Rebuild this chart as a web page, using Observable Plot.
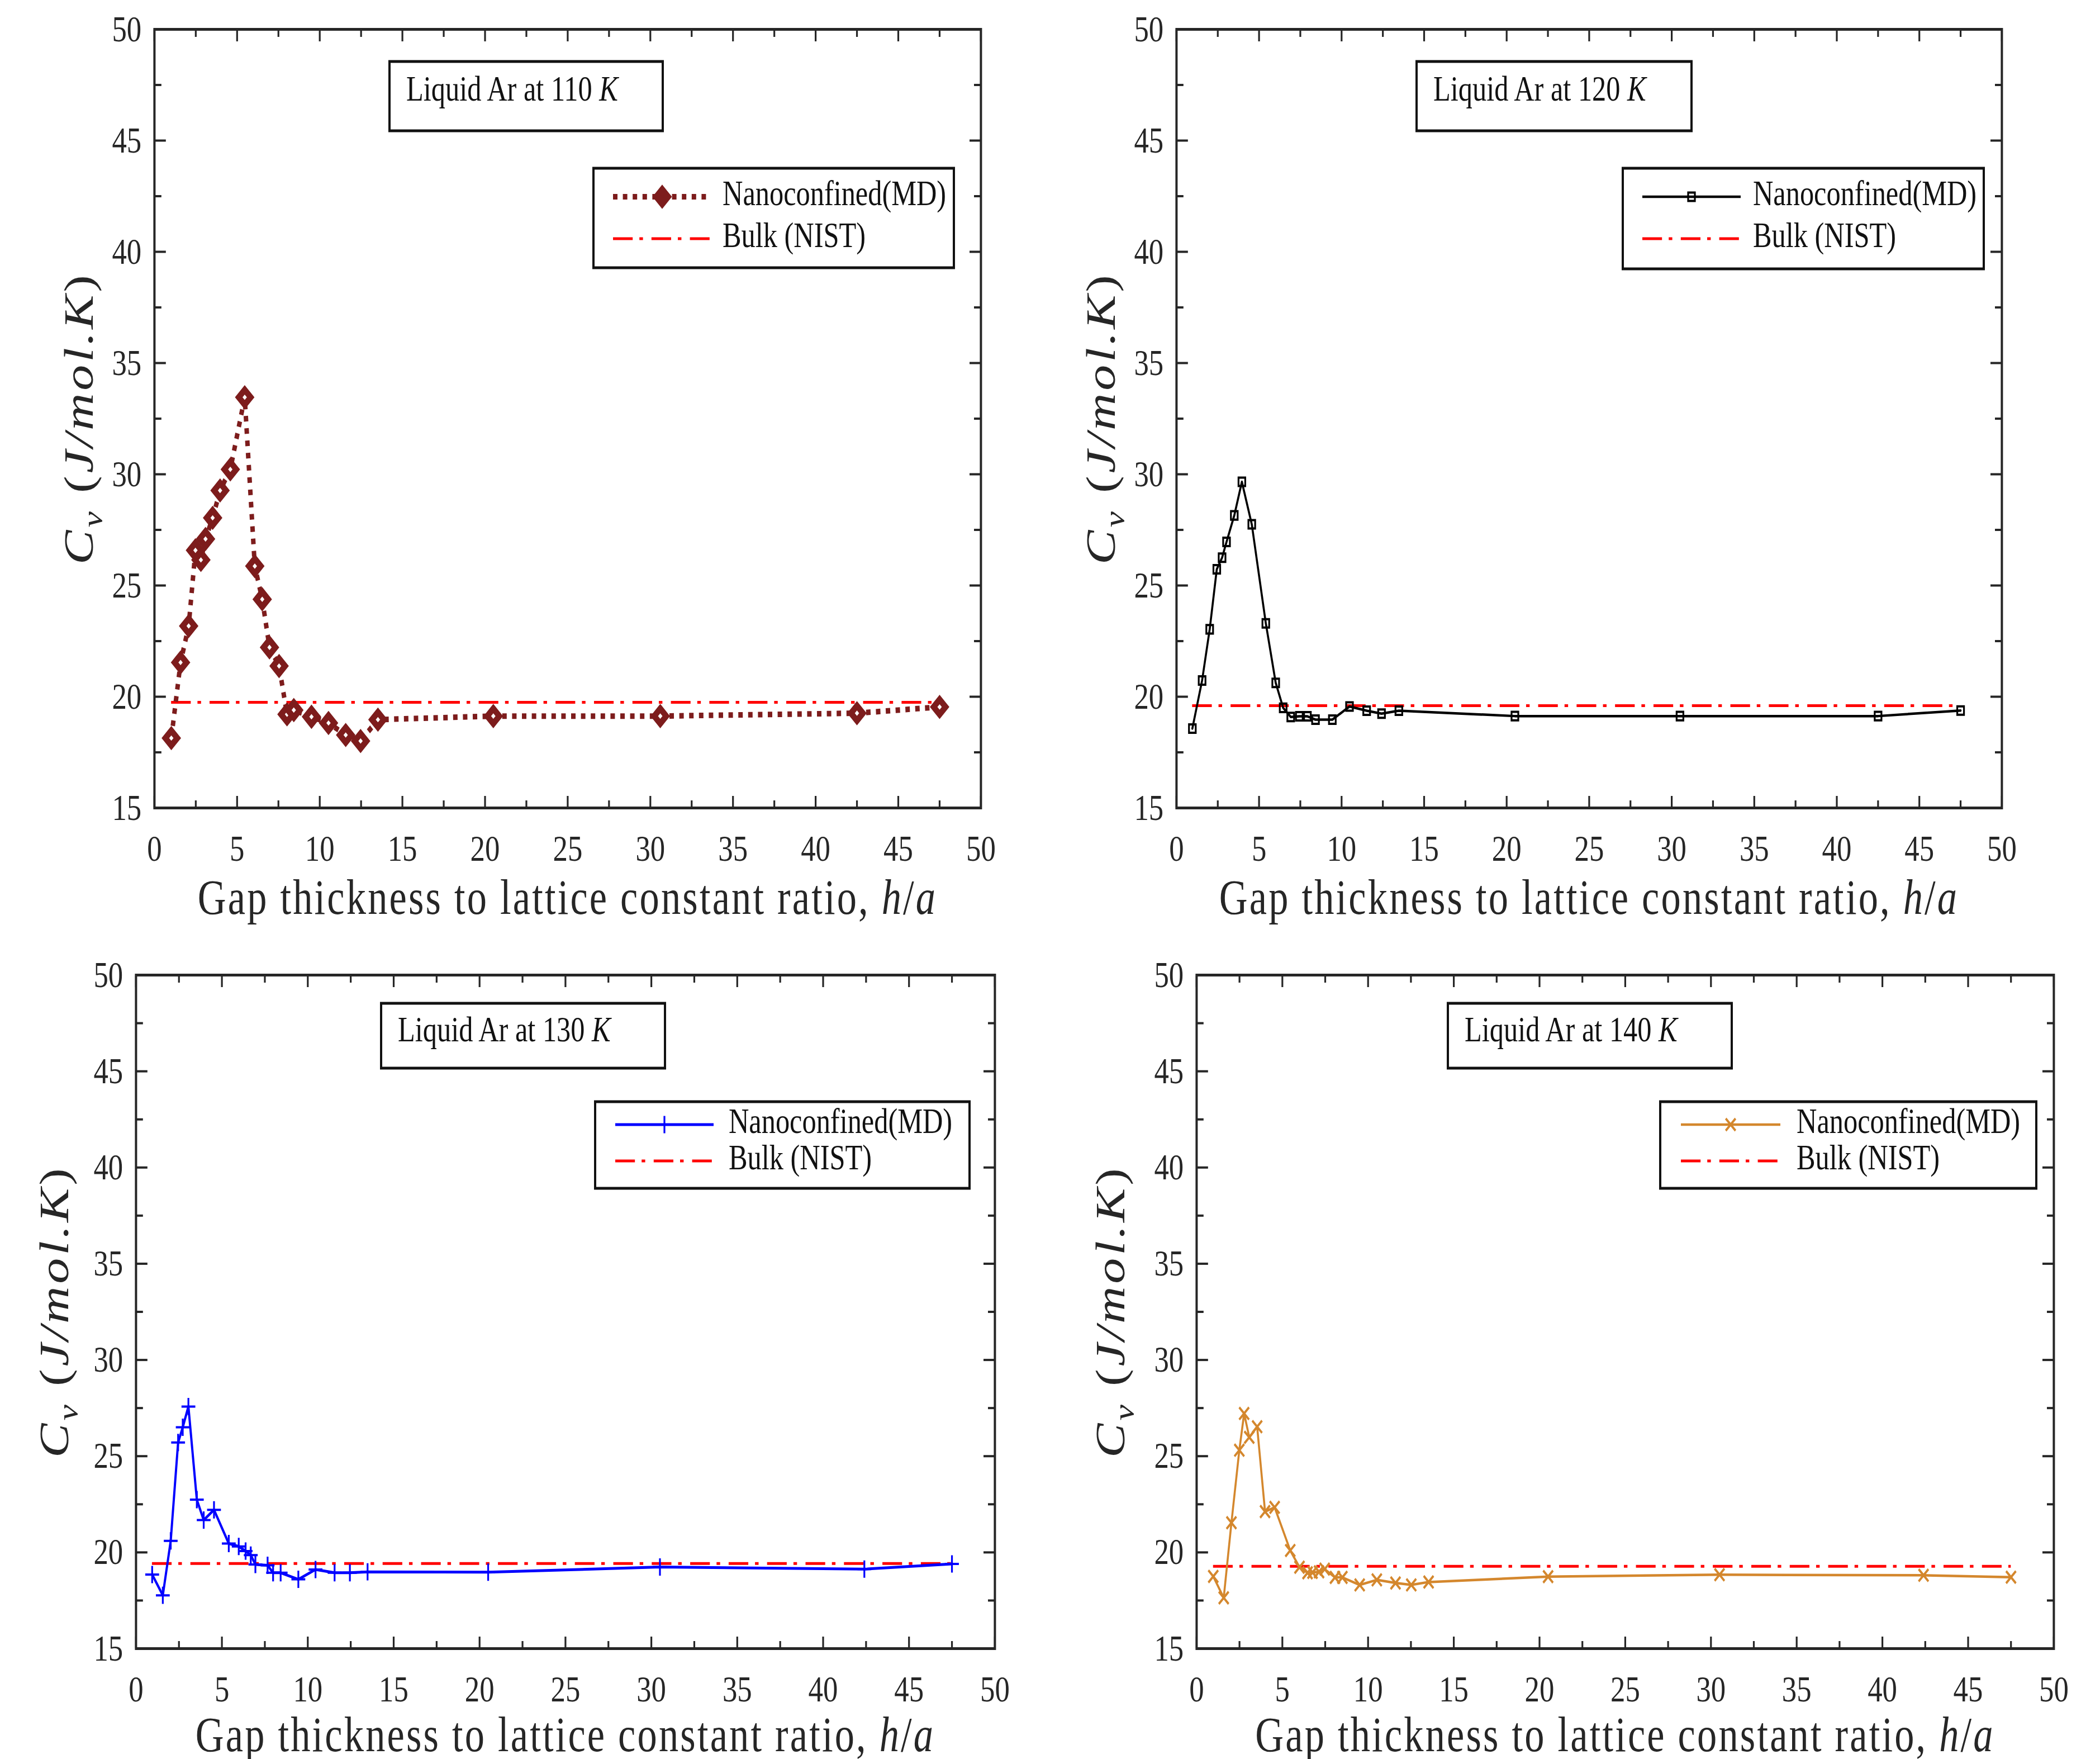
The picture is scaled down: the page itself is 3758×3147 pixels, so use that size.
<!DOCTYPE html>
<html><head><meta charset="utf-8">
<script src="https://cdn.jsdelivr.net/npm/d3@7"></script>
<script src="https://cdn.jsdelivr.net/npm/@observablehq/plot@0.6"></script>
<style>
html,body{margin:0;padding:0;background:#fff;}
body{width:3758px;height:3147px;position:relative;overflow:hidden;font-family:"Liberation Serif",serif;}
.wrap{position:absolute;transform-origin:0 0;}
</style></head>
<body>
<script>
// ---------- data ----------
const xTicks = [0, 5, 10, 15, 20, 25, 30, 35, 40, 45, 50];
const xMinor = [2.5, 7.5, 12.5, 17.5, 22.5, 27.5, 32.5, 37.5, 42.5, 47.5];
const yTicks = [15, 20, 25, 30, 35, 40, 45, 50];
const yMinor = [17.5, 22.5, 27.5, 32.5, 37.5, 42.5, 47.5];

const seriesLabel = "Nanoconfined(MD)";
const bulkLabel = "Bulk (NIST)";
const xLabelText = "Gap thickness to lattice constant ratio, ";

const temps = ["110", "120", "130", "140"];

const gap110 = [1.02, 1.58, 2.07, 2.48, 2.81, 3.09, 3.52, 3.97, 4.59, 5.46, 6.07, 6.52, 6.96, 7.54, 8.02, 8.43, 9.50, 10.53, 11.57, 12.47, 13.52, 20.5, 30.6, 42.5, 47.5];
const cv110 = [18.14, 21.54, 23.18, 26.58, 26.15, 27.09, 28.04, 29.27, 30.22, 33.46, 25.87, 24.38, 22.22, 21.38, 19.21, 19.40, 19.10, 18.82, 18.28, 18.01, 18.97, 19.13, 19.13, 19.26, 19.54];
const bulk110 = 19.75;

const gap120 = [0.96, 1.55, 2.01, 2.44, 2.76, 3.03, 3.50, 3.96, 4.56, 5.41, 6.01, 6.46, 6.92, 7.44, 7.93, 8.42, 9.44, 10.48, 11.52, 12.42, 13.47, 20.5, 30.5, 42.5, 47.5];
const cv120 = [18.57, 20.73, 23.03, 25.73, 26.25, 26.96, 28.15, 29.66, 27.75, 23.30, 20.62, 19.50, 19.09, 19.12, 19.12, 18.97, 18.97, 19.56, 19.37, 19.24, 19.37, 19.13, 19.13, 19.13, 19.38];
const bulk120 = 19.60;

const gap130 = [0.94, 1.56, 2.02, 2.45, 2.72, 3.05, 3.54, 3.94, 4.54, 5.40, 5.98, 6.38, 6.68, 6.95, 7.66, 7.98, 8.42, 9.45, 10.45, 11.56, 12.45, 13.48, 20.5, 30.5, 42.4, 47.5];
const cv130 = [18.85, 17.77, 20.60, 25.71, 26.50, 27.58, 22.74, 21.68, 22.21, 20.46, 20.31, 20.07, 19.86, 19.37, 19.33, 18.94, 18.94, 18.60, 19.11, 18.94, 18.94, 18.99, 18.97, 19.24, 19.13, 19.40];
const bulk130 = 19.42;

const gap140 = [0.97, 1.58, 2.03, 2.49, 2.77, 3.07, 3.53, 3.99, 4.55, 5.46, 6.00, 6.47, 6.76, 7.14, 7.47, 8.07, 8.50, 9.51, 10.51, 11.60, 12.52, 13.53, 20.5, 30.5, 42.4, 47.5];
const cv140 = [18.75, 17.64, 21.54, 25.31, 27.22, 25.98, 26.53, 22.12, 22.34, 20.10, 19.23, 18.94, 18.96, 18.99, 19.13, 18.70, 18.70, 18.31, 18.57, 18.41, 18.31, 18.46, 18.74, 18.84, 18.81, 18.71];
const bulk140 = 19.28;

// ---------- layout / style ----------
const S = 0.8;           // horizontal squeeze of the original figure
const INK = "#262626";
const FONT = "'Liberation Serif', 'Times New Roman', serif";
const RED = "#ff0000";
const RED_DASH = "44,15,8,19";

const panels = [
  {temp: temps[0], x: gap110, y: cv110, bulk: bulk110, L: 276, R: 1755, T: 52, B: 1445,
   color: "#7d1c1c", lw: 10, dash: "10,12", symbol: "diamond2", r: 12, mw: 12, fill: "#fff",
   title: [697, 110, 1186, 234], titleBase: 70, legend: [1062, 301, 1707, 479], rows: [51, 126], textX: 231, lineX: [35, 211],
   ylab: -110, xlab: 190},
  {temp: temps[1], x: gap120, y: cv120, bulk: bulk120, L: 2105, R: 3582, T: 52, B: 1445,
   color: "#000000", lw: 4.5, dash: null, symbol: "square", r: 8.5, mw: 4, fill: "none",
   title: [2535, 110, 3027, 234], titleBase: 70, legend: [2904, 301, 3550, 481], rows: [51, 126], textX: 233, lineX: [35, 211],
   ylab: -110, xlab: 190},
  {temp: temps[2], x: gap130, y: cv130, bulk: bulk130, L: 243, R: 1780, T: 1744, B: 2949,
   color: "#0000ff", lw: 5, dash: null, symbol: "plus", r: 10, mw: 4, fill: "none",
   title: [682, 1795, 1190, 1911], titleBase: 68, legend: [1065, 1971, 1735, 2126], rows: [41, 106], textX: 239, lineX: [36, 212],
   ylab: -121, xlab: 184},
  {temp: temps[3], x: gap140, y: cv140, bulk: bulk140, L: 2141, R: 3675, T: 1744, B: 2949,
   color: "#d4872d", lw: 4.5, dash: null, symbol: "times", r: 10, mw: 4.5, fill: "none",
   title: [2591, 1795, 3099, 1911], titleBase: 68, legend: [2971, 1971, 3644, 2126], rows: [41, 106], textX: 244, lineX: [37, 215],
   ylab: -129, xlab: 184}
];

const symbolMap = {diamond2: d3.symbolDiamond2, square: d3.symbolSquare, plus: d3.symbolPlus, times: d3.symbolTimes};

function drawPanel(c) {
  const mL = 270, mR = 40, mT = 50, mB = 240;
  const fw = (c.R - c.L) / S, fh = c.B - c.T;
  const W = mL + fw + mR, H = mT + fh + mB;
  const data = c.x.map((x, i) => ({x, y: c.y[i]}));
  const ax = {color: INK, strokeWidth: 4, fontSize: 66, label: null};
  const blank = () => "";
  const svg = Plot.plot({
    width: W, height: H,
    marginLeft: mL, marginRight: mR, marginTop: mT, marginBottom: mB,
    x: {domain: [0, 50], axis: null},
    y: {domain: [15, 50], axis: null},
    style: {fontFamily: FONT, background: "transparent", overflow: "visible", color: INK},
    marks: [
      Plot.ruleY([c.bulk], {y: d => d, x1: c.x[0], x2: c.x[c.x.length - 1], stroke: RED, strokeWidth: 5, strokeDasharray: RED_DASH, strokeLinecap: "butt"}),
      Plot.line(data, {x: "x", y: "y", stroke: c.color, strokeWidth: c.lw, strokeDasharray: c.dash || undefined,
        strokeLinecap: c.dash ? "butt" : "round", strokeLinejoin: c.dash ? "miter" : "round"}),
      Plot.dot(data, {x: "x", y: "y", symbol: c.symbol, r: c.r, stroke: c.color, fill: c.fill, strokeWidth: c.mw}),
      Plot.axisX(xTicks, {anchor: "bottom", tickSize: -21, tickPadding: 69, ...ax}),
      Plot.axisX(xMinor, {anchor: "bottom", tickSize: -13, tickFormat: blank, ...ax}),
      Plot.axisX(xTicks, {anchor: "top", tickSize: -21, tickFormat: blank, ...ax}),
      Plot.axisX(xMinor, {anchor: "top", tickSize: -13, tickFormat: blank, ...ax}),
      Plot.axisY(yTicks, {anchor: "left", tickSize: -26, tickPadding: 55, ...ax}),
      Plot.axisY(yMinor, {anchor: "left", tickSize: -16, tickFormat: blank, ...ax}),
      Plot.axisY(yTicks, {anchor: "right", tickSize: -26, tickFormat: blank, ...ax}),
      Plot.axisY(yMinor, {anchor: "right", tickSize: -16, tickFormat: blank, ...ax}),
      Plot.frame({stroke: INK, strokeWidth: 5})
    ]
  });

  const ix = px => mL + (px - c.L) / S;
  const iy = py => mT + (py - c.T);
  const g = d3.select(svg).append("g").attr("font-family", FONT).attr("fill", INK).attr("text-anchor", "start");

  // x label
  const xl = g.append("text").attr("x", mL + fw / 2).attr("y", mT + fh + c.xlab)
    .attr("text-anchor", "middle").attr("font-size", 88).attr("letter-spacing", 4);
  xl.append("tspan").text(xLabelText);
  xl.append("tspan").attr("font-style", "italic").text("h");
  xl.append("tspan").text("/");
  xl.append("tspan").attr("font-style", "italic").text("a");

  // y label
  const yl = g.append("text")
    .attr("transform", `translate(${mL + c.ylab / S},${mT + fh / 2}) rotate(-90)`)
    .attr("text-anchor", "middle").attr("font-size", 92).attr("letter-spacing", 5);
  yl.append("tspan").attr("font-style", "italic").text("C");
  yl.append("tspan").attr("font-style", "italic").attr("font-size", 64).attr("dy", 20).text("v");
  yl.append("tspan").attr("dy", -20).text(" (");
  yl.append("tspan").attr("font-style", "italic").text("J/mol.K");
  yl.append("tspan").text(")");

  // title box
  const [tl, tt, tr, tb] = c.title;
  g.append("rect").attr("x", ix(tl)).attr("y", iy(tt)).attr("width", (tr - tl) / S).attr("height", tb - tt)
    .attr("fill", "#fff").attr("stroke", "#111").attr("stroke-width", 5);
  const tt_ = g.append("text").attr("x", ix(tl + 30)).attr("y", iy(tt + c.titleBase))
    .attr("text-anchor", "start").attr("font-size", 63).attr("fill", "#111");
  tt_.append("tspan").text(`Liquid Ar at ${c.temp} `);
  tt_.append("tspan").attr("font-style", "italic").text("K");

  // legend box
  const [ll, lt, lr, lb] = c.legend;
  g.append("rect").attr("x", ix(ll)).attr("y", iy(lt)).attr("width", (lr - ll) / S).attr("height", lb - lt)
    .attr("fill", "#fff").attr("stroke", "#111").attr("stroke-width", 5);
  const y1 = iy(lt + c.rows[0]), y2 = iy(lt + c.rows[1]);
  const x1 = ix(ll + c.lineX[0]), x2 = ix(ll + c.lineX[1]);
  g.append("line").attr("x1", x1).attr("x2", x2).attr("y1", y1).attr("y2", y1)
    .attr("stroke", c.color).attr("stroke-width", c.lw).attr("stroke-dasharray", c.dash);
  const sym = d3.symbol(symbolMap[c.symbol], Math.PI * c.r * c.r)();
  g.append("path").attr("d", sym).attr("transform", `translate(${(x1 + x2) / 2},${y1})`)
    .attr("fill", c.symbol === "diamond2" ? c.color : c.fill).attr("stroke", c.color).attr("stroke-width", c.mw);
  g.append("line").attr("x1", x1).attr("x2", x2).attr("y1", y2).attr("y2", y2)
    .attr("stroke", RED).attr("stroke-width", 5).attr("stroke-dasharray", RED_DASH);
  g.append("text").attr("x", ix(ll + c.textX)).attr("y", y1 + 15).attr("text-anchor", "start")
    .attr("font-size", 63).attr("fill", "#111").text(seriesLabel);
  g.append("text").attr("x", ix(ll + c.textX)).attr("y", y2 + 15).attr("text-anchor", "start")
    .attr("font-size", 63).attr("fill", "#111").text(bulkLabel);

  const wrap = document.createElement("div");
  wrap.className = "wrap";
  wrap.style.left = (c.L - S * mL) + "px";
  wrap.style.top = (c.T - mT) + "px";
  wrap.style.width = W + "px";
  wrap.style.height = H + "px";
  wrap.style.transform = `scaleX(${S})`;
  wrap.appendChild(svg);
  document.body.appendChild(wrap);
}

panels.forEach(drawPanel);
</script>
</body></html>
